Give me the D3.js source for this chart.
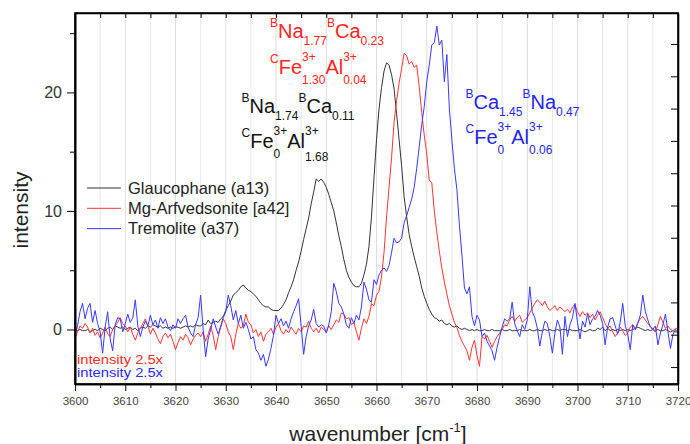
<!DOCTYPE html>
<html>
<head>
<meta charset="utf-8">
<script src="https://cdn.jsdelivr.net/npm/d3@7"></script>
<style>
  html, body { margin: 0; padding: 0; background: #fff; }
  svg { display: block; }
</style>
</head>
<body>
<svg id="chart" width="690" height="444"></svg>
<script>
// Spectra sampled every 0.5 cm^-1 from 3600 to 3720 cm^-1
const waveStart = 3600;
const waveStep = 0.5;

const glaucophane = [
  0.0, -0.1, 0.0, -0.1, -0.1, 0.0, -0.2, -0.1, 0.0, -0.1,
  0.1, 0.0, -0.1, 0.1, 0.2, 0.0, 0.3, 0.2, 0.1, 0.2,
  0.0, 0.1, 0.2, 0.0, 0.1, -0.1, 0.1, 0.2, 0.1, 0.3,
  0.2, 0.4, 0.3, 0.2, 0.3, 0.1, 0.2, 0.1, 0.2, 0.1,
  0.2, 0.2, 0.1, 0.2, 0.3, 0.2, 0.3, 0.2, 0.4, 0.3,
  0.3, 0.5, 0.4, 0.8, 0.5, 0.6, 0.7, 0.6, 0.9, 1.1,
  1.6, 2.0, 2.4, 2.9, 3.1, 3.3, 3.6, 3.75, 3.5, 3.3,
  3.2, 3.0, 2.8, 2.5, 2.2, 2.0, 1.9, 1.9, 1.7, 1.6,
  1.6, 1.6, 1.8, 2.1, 2.5, 3.1, 3.6, 4.2, 5.0, 5.7,
  6.6, 7.6, 8.5, 9.4, 10.6, 11.6, 12.7, 12.5, 12.7, 12.4,
  12.0, 11.4, 10.7, 10.0, 9.0, 7.9, 7.0, 5.9, 5.0, 4.4,
  4.0, 3.7, 3.6, 3.6, 3.9, 4.6, 5.5, 7.0, 9.5, 12.8,
  16.0, 18.6, 20.4, 21.8, 22.5, 22.3, 21.5, 20.3, 18.2, 16.0,
  13.8, 11.2, 9.5, 8.0, 7.0, 6.1, 5.3, 4.5, 3.5, 2.8,
  2.2, 1.7, 1.3, 1.0, 0.9, 0.7, 0.8, 0.5, 0.4, 0.5,
  0.3, 0.2, 0.3, 0.1, 0.0, 0.1, 0.0, -0.1, 0.0, -0.1,
  0.0, -0.1, -0.1, 0.0, -0.1, -0.1, 0.0, -0.1, -0.1, -0.1,
  0.0, -0.1, -0.1, 0.0, -0.1, -0.1, -0.1, 0.0, -0.1, -0.1,
  -0.1, 0.0, -0.1, -0.1, 0.0, -0.1, -0.1, 0.0, -0.1, 0.0,
  -0.1, -0.1, 0.0, -0.1, 0.0, 0.0, -0.1, 0.0, -0.1, -0.1,
  -0.1, 0.0, -0.1, -0.2, -0.1, 0.0, -0.1, -0.1, 0.1, 0.0,
  0.2, -0.1, 0.1, -0.1, 0.0, -0.1, 0.0, -0.1, 0.0, -0.1,
  0.0, -0.1, 0.0, 0.1, 0.2, 0.1, 0.0, -0.1, 0.0, -0.1,
  0.0, -0.1, 0.0, -0.1, -0.1, 0.0, -0.1, -0.2, -0.1, -0.2,
  -0.2
];

const mgArfvedsonite = [
  -0.8, -0.2, 0.3, 0.1, 0.5, 0.2, -0.3, 0.1, -0.5, -0.2,
  -0.7, -0.3, 0.2, -0.4, -0.6, 0.0, 0.3, 0.6, 1.0, 0.5,
  0.3, -0.2, 0.2, -0.4, -0.9, -0.3, 0.1, 0.5, 0.9, 0.3,
  -0.4, 0.1, -0.3, -0.8, -1.2, -0.6, -0.3, -0.7, -0.4, -1.0,
  -1.7, -1.1, -0.6, -0.9, -0.4, -0.7, -1.3, -0.8, -0.5, -0.3,
  -0.6, -0.2, -1.0, -0.4, 0.3, -0.5, -1.7, -0.6, 0.2, 0.9,
  0.5, -0.2, -0.6, -1.7, -0.4, 0.5, 0.1, 0.3, 1.3, 0.6,
  0.4, -0.3, 0.0, -0.6, -0.2, -1.0, -0.4, -0.2, 0.1, -0.4,
  0.2, 0.5, -0.1, -0.4, 0.0, -0.3, 0.2, -0.1, -0.4, 0.1,
  -0.2, 0.3, 0.2, 0.7, 0.1, -0.2, 0.1, -0.3, 0.2, 0.0,
  -0.2, 0.3, 0.0, 0.4, 0.8, 0.6, 1.4, 1.3, 0.9, 1.0,
  0.4, 0.6, -0.2, -0.9, 0.1, 0.9, 0.5, 1.1, 2.2, 2.0,
  2.9, 3.2, 4.5, 6.5, 9.5, 12.0, 14.5, 17.5, 19.3, 20.8,
  22.0, 23.3, 23.1, 22.4, 22.6, 22.1, 22.3, 20.5, 18.3, 16.4,
  14.8, 12.6, 12.4, 10.0, 8.2, 6.6, 5.2, 4.0, 3.0, 2.0,
  1.3, 0.6, 0.2, -0.5, -1.0, -1.4, -1.8, -2.6, -1.5, -0.9,
  -2.2, -3.1, -0.6, -0.8, -0.5, -1.0, -1.5, -1.0, -0.6, -0.3,
  0.0, 0.4, 0.3, 0.8, 1.1, 0.7, 1.0, 1.2, 0.6, 0.8,
  1.0, 1.4, 1.8, 2.2, 2.5, 2.3, 2.0, 2.4, 1.9, 1.6,
  1.8, 2.0, 1.6, 1.9, 1.7, 1.5, 1.7, 1.4, 1.9, 2.1,
  1.5, 1.1, 1.5, 1.2, 1.4, 1.0, 1.3, 0.8, 1.2, 1.5,
  1.0, 0.5, 0.1, 0.3, -0.2, -0.6, -0.3, 0.2, -0.1, -0.5,
  -0.3, 0.2, 0.4, 0.0, 0.6, 0.9, 1.1, 0.8, 0.5, 0.3,
  0.0, -0.2, 0.4, 1.1, 0.6, 0.1, 0.3, 0.0, -0.1, 0.1,
  0.0
];

const tremolite = [
  -0.5, 0.3, 1.5, 2.2, 0.9, 1.8, 2.2, 0.6, 1.6, 0.5,
  -0.2, -2.0, 0.2, 1.5, -0.8, -1.8, 0.4, 1.0, 0.9, -0.2,
  0.5, 1.3, 0.6, 1.0, 2.5, 0.3, -0.6, 0.2, 0.7, 0.3,
  1.2, 0.4, 0.8, 0.1, 1.0, 0.5, 0.9, 0.2, -0.1, 0.4,
  0.1, 0.9, 0.5, 0.9, 1.2, 0.2, -0.3, -0.6, 0.4, 1.0,
  2.9, 0.0, -2.3, -0.8, 0.0, 0.9, 0.2, -0.4, 0.3, 1.0,
  1.5, 2.9, 2.0, 0.8, 1.6, 0.5, 1.2, 0.1, 0.6, 0.0,
  -0.8, -0.6, -1.7, -2.0, -2.6, -2.1, -3.1, -2.5, -1.6, -0.5,
  1.2, 0.5, 0.9, 0.3, 0.7, 0.1, 0.9, 1.5, 2.0, 2.6,
  0.3, -2.1, -0.6, 0.3, 0.8, 1.7, 0.5, 0.2, 0.4, 0.3,
  -0.3, 0.4, 1.5, 3.9, 3.2, 2.2, 1.9, 1.3, 0.4, 0.1,
  1.0, 0.5, 1.2, 0.8, 1.9, 4.0, 3.4, 2.5, 2.3, 4.2,
  3.8, 4.6, 5.0, 5.2, 4.9, 5.4, 6.5, 7.7, 7.3, 7.4,
  7.7, 9.0, 9.6, 10.3, 11.0, 12.0, 13.6, 15.4, 17.3, 18.8,
  20.9, 22.3, 24.0, 24.2, 25.6, 24.0, 24.4, 20.9, 23.2, 18.6,
  16.0, 13.6, 11.8, 8.8, 6.3, 3.5, 3.0, 3.6, 1.1, 0.3,
  1.2, 0.8, -0.6, -0.3, -1.0, -1.4, -1.8, -2.6, -1.5, -0.6,
  0.2, 0.9, 0.7, 0.9, 2.3, 0.5, -0.1, -0.6, 0.4, 0.0,
  0.8, 3.6, 1.5, 1.0, 0.1, -1.4, -0.2, 0.7, 0.5, -0.6,
  -2.0, -0.3, 0.8, 0.2, -2.1, 1.1, -0.6, 0.4, 1.0, 2.2,
  0.6, -0.8, 0.7, 0.2, 1.3, 0.4, 0.9, 1.1, 1.6, 1.2,
  0.5, -1.3, 0.2, 0.9, 1.0, 0.3, -0.4, 0.6, 2.2, 0.3,
  -0.4, -1.7, 0.4, 0.0, 0.5, 1.2, 2.9, 1.5, 0.8, 0.2,
  0.0, 0.3, -1.3, -0.3, 0.4, 1.3, -0.2, -1.6, -0.4, 0.0,
  -0.3
];

const seriesNames = ["Glaucophane (a13)", "Mg-Arfvedsonite [a42]", "Tremolite (a37)"];
const seriesColors = ["#333333", "#ff3535", "#3838ff"];
const scaleNotes = ["intensity 2.5x", "intensity 2.5x"];
const scaleNoteColors = ["#ff2a2a", "#2a2aff"];

const xTickValues = d3.range(3600, 3721, 10);
const xMinorValues = d3.range(3605, 3720, 10);
const yTickValues = [0, 10, 20];
const yMinorValues = [5, 15, 25];
const rightTickValues = d3.range(-1, 10, 1);

// Site formulas: sup / main / sub pieces; "pair" stacks a superscript over a subscript
const formulas = [
  { color: "#ff2424", x: 270, y: 37.5, parts: [
    { sup: "B" }, { main: "Na" }, { sub: "1.77" }, { sup: "B" }, { main: "Ca" }, { sub: "0.23" } ] },
  { color: "#ff2424", x: 270, y: 74, parts: [
    { sup: "C" }, { main: "Fe" }, { pair: ["3+", "1.30"] }, { main: "Al" }, { pair: ["3+", "0.04"] } ] },
  { color: "#111111", x: 241.5, y: 112.5, parts: [
    { sup: "B" }, { main: "Na" }, { sub: "1.74" }, { sup: "B" }, { main: "Ca" }, { sub: "0.11" } ] },
  { color: "#111111", x: 241.5, y: 147.5, parts: [
    { sup: "C" }, { main: "Fe" }, { pair: ["3+", "0"] }, { main: "Al" }, { pair: ["3+", "1.68"], low: 3 } ] },
  { color: "#2626e6", x: 465.5, y: 108.5, parts: [
    { sup: "B" }, { main: "Ca" }, { sub: "1.45" }, { sup: "B" }, { main: "Na" }, { sub: "0.47" } ] },
  { color: "#2626e6", x: 465.5, y: 144, parts: [
    { sup: "C" }, { main: "Fe" }, { pair: ["3+", "0"] }, { main: "Al" }, { pair: ["3+", "0.06"] } ] }
];

const FONT = "'Liberation Sans', Arial, Helvetica, sans-serif";
const svg = d3.select("#chart");

const plot = { left: 75, right: 678, top: 13, bottom: 384 };

const x = d3.scaleLinear().domain([3600, 3720]).range([plot.left, plot.right]);
const y = d3.scaleLinear().domain([-4.6, 26.7]).range([plot.bottom, plot.top]);
const yRight = d3.scaleLinear().domain([-1, 9]).range([367, 44]);

// Vertical grid lines every 5 cm^-1
svg.append("g")
  .selectAll("line")
  .data(d3.range(3605, 3720, 5))
  .join("line")
  .attr("x1", d => x(d)).attr("x2", d => x(d))
  .attr("y1", plot.top).attr("y2", plot.bottom)
  .attr("stroke", d => d % 10 === 0 ? "#dcdcdc" : "#e8e8e8")
  .attr("stroke-width", 1);

// Spectra
svg.append("defs").append("clipPath").attr("id", "plotClip")
  .append("rect")
  .attr("x", plot.left).attr("y", plot.top)
  .attr("width", plot.right - plot.left).attr("height", plot.bottom - plot.top);

const line = d3.line()
  .x((d, i) => x(waveStart + i * waveStep))
  .y(d => y(d));

const seriesData = [glaucophane, mgArfvedsonite, tremolite];
const curves = svg.append("g").attr("clip-path", "url(#plotClip)");
seriesData.forEach((values, k) => {
  curves.append("path")
    .datum(values)
    .attr("fill", "none")
    .attr("stroke", seriesColors[k])
    .attr("stroke-width", 1)
    .attr("stroke-linejoin", "round")
    .attr("d", line);
});

// Axes; their domain paths close the plot frame
const gBottom = svg.append("g").attr("transform", `translate(0,${plot.bottom})`)
  .call(d3.axisBottom(x).tickValues(xTickValues).tickSize(7).tickSizeOuter(0).tickPadding(6).tickFormat(d3.format("d")));
svg.append("g").attr("transform", `translate(0,${plot.bottom})`)
  .call(d3.axisBottom(x).tickValues(xMinorValues).tickSize(4).tickSizeOuter(0).tickFormat(""));

svg.append("g").attr("transform", `translate(0,${plot.top})`)
  .call(d3.axisBottom(x).tickValues(d3.range(3605, 3720, 5)).tickSize(5).tickSizeOuter(0).tickFormat(""));

const gLeft = svg.append("g").attr("transform", `translate(${plot.left},0)`)
  .call(d3.axisLeft(y).tickValues(yTickValues).tickSize(8).tickSizeOuter(0).tickPadding(5).tickFormat(d3.format("d")));
svg.append("g").attr("transform", `translate(${plot.left},0)`)
  .call(d3.axisLeft(y).tickValues(yMinorValues).tickSize(5).tickSizeOuter(0).tickFormat(""));

svg.append("g").attr("transform", `translate(${plot.right},0)`)
  .call(d3.axisLeft(yRight.copy().range([plot.bottom, plot.top]).domain([yRight.invert(plot.bottom), yRight.invert(plot.top)]))
    .tickValues(rightTickValues).tickSize(7).tickSizeOuter(0).tickFormat(""));

svg.selectAll(".domain").attr("stroke", "#000").attr("stroke-width", 1.6);
svg.selectAll(".tick line").attr("stroke", "#1a1a1a").attr("stroke-width", 1.1);

gBottom.selectAll(".tick text")
  .attr("fill", "#444").style("font-family", FONT).style("font-size", "11.5px");
gLeft.selectAll(".tick text")
  .attr("fill", "#333").style("font-family", FONT).style("font-size", "16px");

// Plot frame outline
svg.append("rect")
  .attr("x", plot.left).attr("y", plot.top)
  .attr("width", plot.right - plot.left)
  .attr("height", plot.bottom - plot.top)
  .style("fill", "none")
  .style("stroke", "#000")
  .style("stroke-width", "1.6px");

// Axis titles
svg.append("text")
  .attr("transform", "translate(28,210) rotate(-90)")
  .attr("text-anchor", "middle")
  .style("font-family", FONT).style("font-size", "21px")
  .attr("fill", "#222")
  .text("intensity");

const xTitle = svg.append("text")
  .attr("x", 378).attr("y", 441)
  .attr("text-anchor", "middle")
  .style("font-family", FONT).style("font-size", "21px")
  .attr("fill", "#222");
xTitle.append("tspan").text("wavenumber [cm");
xTitle.append("tspan").attr("dy", -9).style("font-size", "13px").text("-1");
xTitle.append("tspan").attr("dy", 9).text("]");

// Legend
const legend = svg.append("g");
seriesNames.forEach((name, i) => {
  const cy = 188 + i * 20.3;
  legend.append("line")
    .attr("x1", 87).attr("x2", 121).attr("y1", cy).attr("y2", cy)
    .attr("stroke", seriesColors[i]).attr("stroke-width", 1);
  legend.append("text")
    .attr("x", 128).attr("y", cy).attr("dy", "0.35em")
    .style("font-family", FONT).style("font-size", "16.5px")
    .attr("fill", "#222")
    .text(name);
});

// Scaling notes, stretched to their printed width
scaleNotes.forEach((t, i) => {
  svg.append("text")
    .attr("x", 77).attr("y", 364 + i * 13)
    .attr("textLength", 86).attr("lengthAdjust", "spacingAndGlyphs")
    .style("font-family", FONT).style("font-size", "12.5px")
    .attr("fill", scaleNoteColors[i])
    .text(t);
});

// Crystal-chemical formulas
function drawFormula(spec) {
  const g = svg.append("g").attr("fill", spec.color).style("font-family", FONT);
  let cx = spec.x;
  const piece = (txt, dy, size) =>
    g.append("text").attr("x", cx).attr("y", spec.y + dy).style("font-size", size + "px").text(txt);
  spec.parts.forEach(p => {
    if (p.main) {
      cx += piece(p.main, 0, 20).node().getComputedTextLength();
    } else if (p.sup) {
      cx += piece(p.sup, -11, 12).node().getComputedTextLength();
    } else if (p.sub) {
      cx += piece(p.sub, 7.5, 12).node().getComputedTextLength();
    } else if (p.pair) {
      const a = piece(p.pair[0], -13, 12).node().getComputedTextLength();
      const b = piece(p.pair[1], 10 + (p.low || 0), 12).node().getComputedTextLength();
      cx += Math.max(a, b);
    }
  });
}
formulas.forEach(drawFormula);
</script>
</body>
</html>
